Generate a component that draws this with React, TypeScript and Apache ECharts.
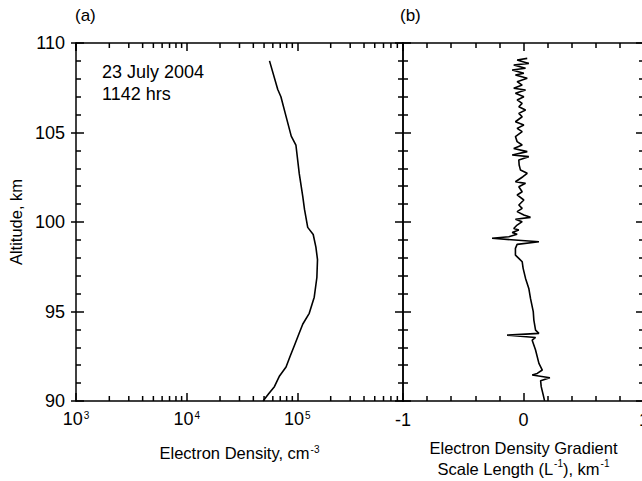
import React, { useEffect, useRef } from 'react';
import * as echarts from 'echarts';

// Panel (a): electron density profile
const densityAltitude = [109.0, 107.4, 107.0, 105.9, 104.8, 104.3, 102.7, 101.4, 100.7, 99.7, 99.3, 98.6, 97.9, 96.9, 95.8, 94.9, 94.3, 93.8, 93.1, 92.5, 91.9, 91.4, 90.8, 90.4, 90.0];
const densityValues = [5.6e4, 6.65e4, 7.1e4, 7.9e4, 8.8e4, 9.7e4, 1.04e5, 1.12e5, 1.16e5, 1.24e5, 1.39e5, 1.47e5, 1.52e5, 1.5e5, 1.42e5, 1.28e5, 1.12e5, 1.04e5, 9.4e4, 8.6e4, 7.9e4, 6.9e4, 6.2e4, 5.5e4, 4.9e4];

// Panel (b): electron density gradient scale length (L^-1)
const gradientAltitude = [
  109.14, 109.05, 108.86, 108.77, 108.59, 108.49, 108.31, 108.21, 108.03, 107.84, 107.65, 107.47, 107.37, 107.19, 107.0, 106.82, 106.63, 106.44, 106.26, 106.07, 105.88, 105.6, 105.42, 105.23, 105.05, 104.77,
  104.49, 104.3, 104.11, 103.93, 103.74, 103.65, 103.46, 103.18, 102.9, 102.72, 102.53, 102.25, 102.16, 101.97, 101.69, 101.51, 101.23, 100.95, 100.76, 100.58, 100.39, 100.26, 100.15, 100.02, 99.83,
  99.64, 99.55, 99.42, 99.31, 99.18, 99.09, 98.9, 98.75, 98.53, 98.15, 97.97, 97.78, 97.41, 96.85, 96.29, 95.73, 94.99,
  94.52, 93.96, 93.78, 93.68, 93.55, 93.4, 92.85, 92.1, 91.73, 91.54, 91.45, 91.3, 91.13, 90.8, 90.33, 90.01
];
const gradientValues = [
  0.031, -0.053, 0.044, -0.081, 0.017, -0.094, 0.003, -0.067, 0.031, -0.053, -0.011, -0.081, 0.017, -0.067, 0.003, -0.053, -0.011, -0.039, 0.017, -0.039, -0.011, -0.067, 0.003, -0.053, -0.011, -0.067,
  -0.053, -0.011, -0.081, 0.031, -0.094, 0.044, -0.039, -0.036, -0.025, 0.031, -0.005, -0.067, 0.017, -0.039, -0.011, -0.053, 0.003, -0.039, -0.011, -0.053, 0.003, 0.058, -0.067, -0.011, -0.053,
  -0.081, -0.039, -0.094, -0.053, -0.122, -0.261, 0.128, -0.053, -0.067, -0.067, -0.039, -0.011, -0.003, 0.017, 0.044, 0.058, 0.081,
  0.086, 0.1, 0.128, -0.136, 0.1, 0.072, 0.1, 0.128, 0.156, 0.114, 0.072, 0.219, 0.142, 0.147, 0.164, 0.175
];

// Minor tick values of the log axis
const logMinorTicks = [2e3, 3e3, 4e3, 5e3, 6e3, 7e3, 8e3, 9e3, 2e4, 3e4, 4e4, 5e4, 6e4, 7e4, 8e4, 9e4, 2e5, 3e5, 4e5, 5e5, 6e5, 7e5, 8e5];

const densityMin = 1e3;
const densityMax = 9e5;
const altMin = 90;
const altMax = 110;
const gradMin = -1;
const gradMax = 1;

const FONT = 'Liberation Sans, Arial, sans-serif';
const BLACK = '#000';

export default function App() {
  const ref = useRef<HTMLDivElement>(null);
  useEffect(() => {
    if (!ref.current) return;
    const chart = echarts.init(ref.current, null, { renderer: 'svg' });
    const lineStyle = { color: BLACK, width: 1.5 };
    const axisLine = { show: true, onZero: false, lineStyle };
    const supRich = { sup: { fontSize: 10, verticalAlign: 'top', fontFamily: FONT, color: BLACK, padding: [0, 0, 0, 1] } };
    const tickFont = { fontSize: 18, color: BLACK, fontFamily: FONT };

    const yBase = (gridIndex: number, position: string, extra: any = {}) => ({
      type: 'value',
      gridIndex,
      position,
      min: altMin,
      max: altMax,
      interval: 5,
      axisLine,
      axisTick: { show: true, inside: true, length: 8, lineStyle },
      minorTick: { show: true, splitNumber: 5, length: 5, lineStyle },
      axisLabel: { show: false },
      splitLine: { show: false },
      minorSplitLine: { show: false },
      ...extra,
    });

    const option: any = {
      animation: false,
      textStyle: { fontFamily: FONT, color: BLACK },
      grid: [
        { left: 76, top: 43, width: 327, height: 358, containLabel: false, outerBoundsMode: 'none' },
        { left: 403, top: 43, width: 241, height: 358, containLabel: false, outerBoundsMode: 'none' },
      ],
      xAxis: [
        {
          type: 'log', gridIndex: 0, position: 'bottom', logBase: 10, min: densityMin, max: densityMax,
          axisLine,
          axisTick: { show: true, inside: true, length: 8, lineStyle },
          splitLine: { show: false },
          axisLabel: {
            show: true, margin: 9, ...tickFont,
            showMaxLabel: false,
            formatter: (v: number) => {
              const e = Math.log10(v);
              if (Math.abs(e - Math.round(e)) > 1e-6) return '';
              return '10{sup|' + Math.round(e) + '}';
            },
            rich: supRich,
          },
          name: 'Electron Density, cm{sup|-3}',
          nameLocation: 'middle',
          nameGap: 43,
          nameTextStyle: { fontSize: 16.5, color: BLACK, fontFamily: FONT, rich: supRich },
        },
        {
          type: 'log', gridIndex: 0, position: 'top', logBase: 10, min: densityMin, max: densityMax,
          axisLine,
          axisTick: { show: true, inside: true, length: 8, lineStyle },
          splitLine: { show: false },
          axisLabel: { show: false },
        },
        {
          type: 'value', gridIndex: 1, position: 'bottom', min: gradMin, max: gradMax, interval: 1,
          axisLine,
          axisTick: { show: true, inside: true, length: 8, lineStyle },
          minorTick: { show: true, splitNumber: 5, length: 5, lineStyle },
          splitLine: { show: false },
          axisLabel: { show: true, margin: 10, ...tickFont },
          name: 'Electron Density Gradient\nScale Length (L{sup|-1}), km{sup|-1}',
          nameLocation: 'middle',
          nameGap: 36,
          nameTextStyle: { fontSize: 16.5, color: BLACK, fontFamily: FONT, lineHeight: 21, rich: supRich },
        },
        {
          type: 'value', gridIndex: 1, position: 'top', min: gradMin, max: gradMax, interval: 1,
          axisLine,
          axisTick: { show: true, inside: true, length: 8, lineStyle },
          minorTick: { show: true, splitNumber: 5, length: 5, lineStyle },
          splitLine: { show: false },
          axisLabel: { show: false },
        },
      ],
      yAxis: [
        yBase(0, 'left', {
          axisLabel: { show: true, margin: 11, ...tickFont },
          name: 'Altitude, km',
          nameLocation: 'middle',
          nameGap: 50,
          nameTextStyle: { fontSize: 16.5, color: BLACK, fontFamily: FONT },
        }),
        yBase(0, 'left', {
          axisLine: { show: false, onZero: false },
          axisTick: { show: true, inside: false, length: 5, lineStyle },
          minorTick: { show: false },
        }),
        yBase(0, 'right'),
        yBase(1, 'left'),
        yBase(1, 'right'),
      ],
      graphic: [
        { type: 'text', left: 75, top: 7, style: { text: '(a)', fontSize: 17, fontFamily: FONT, fill: BLACK } },
        { type: 'text', left: 400, top: 7, style: { text: '(b)', fontSize: 17, fontFamily: FONT, fill: BLACK } },
        { type: 'text', left: 102, top: 63, style: { text: '23 July 2004', fontSize: 18, fontFamily: FONT, fill: BLACK } },
        { type: 'text', left: 102, top: 85, style: { text: '1142 hrs', fontSize: 18, fontFamily: FONT, fill: BLACK } },
      ],
      series: [
        {
          type: 'custom', xAxisIndex: 0, yAxisIndex: 0, silent: true, z: 5,
          data: logMinorTicks.map((v) => [v, altMin]),
          encode: { x: 0, y: 1 },
          renderItem: (_p: any, api: any) => {
            const b = api.coord([api.value(0), altMin]);
            const t = api.coord([api.value(0), altMax]);
            const st = { stroke: BLACK, lineWidth: 1.5 };
            return {
              type: 'group',
              children: [
                { type: 'line', shape: { x1: b[0], y1: b[1], x2: b[0], y2: b[1] - 5 }, style: st },
                { type: 'line', shape: { x1: t[0], y1: t[1], x2: t[0], y2: t[1] + 5 }, style: st },
              ],
            };
          },
        },
        {
          type: 'line', xAxisIndex: 0, yAxisIndex: 0, showSymbol: false, symbol: 'none',
          lineStyle: { color: BLACK, width: 1.6 },
          data: densityValues.map((v, i) => [v, densityAltitude[i]]),
        },
        {
          type: 'line', xAxisIndex: 2, yAxisIndex: 3, showSymbol: false, symbol: 'none',
          lineStyle: { color: BLACK, width: 1.6 },
          data: gradientValues.map((v, i) => [v, gradientAltitude[i]]),
        },
      ],
    };
    chart.setOption(option);
    return () => chart.dispose();
  }, []);
  return <div ref={ref} style={{ position: 'absolute', left: 0, top: 0, width: 642, height: 481 }} />;
}
